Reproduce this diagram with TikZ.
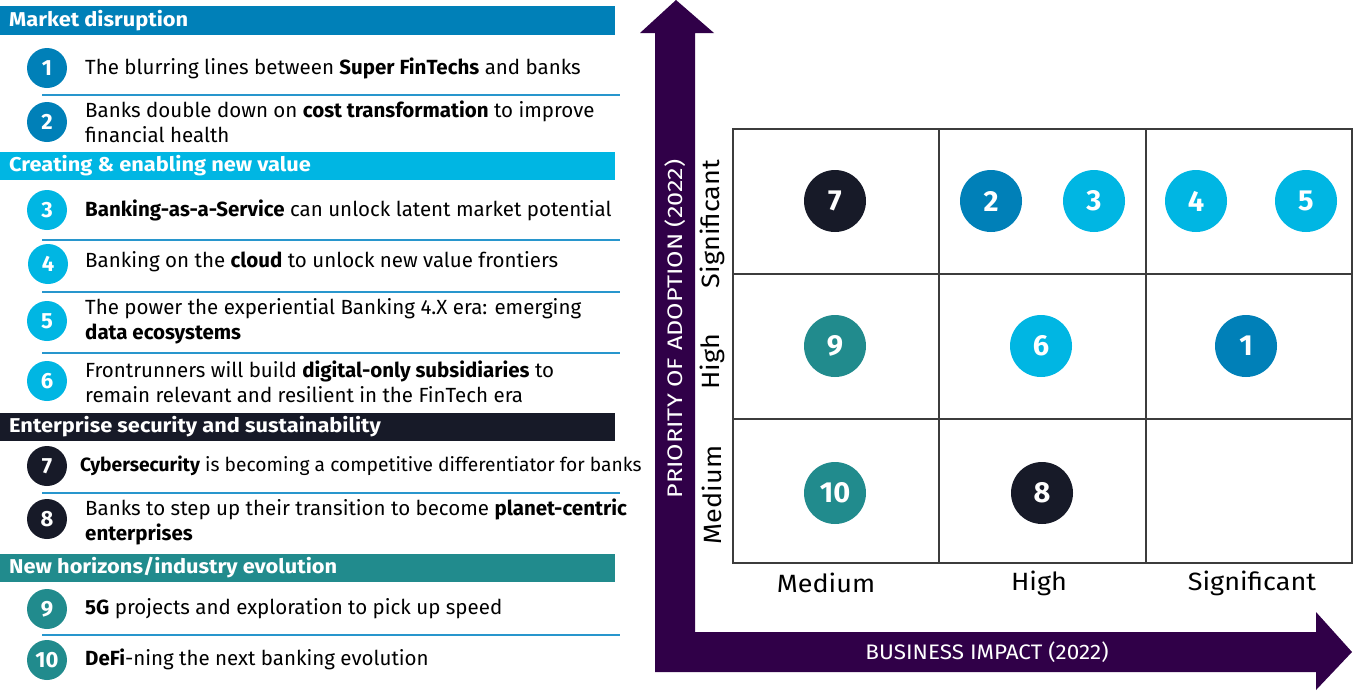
\documentclass[tikz,border=0pt]{standalone}
\usepackage{fontspec}
\setmainfont{Fira Sans}
\definecolor{mblue}{RGB}{0,128,184}
\definecolor{mcyan}{RGB}{0,182,227}
\definecolor{mnavy}{RGB}{23,26,40}
\definecolor{mteal}{RGB}{33,139,141}
\definecolor{mpurple}{RGB}{48,0,72}
\definecolor{msep}{RGB}{40,150,205}
\definecolor{mgrid}{RGB}{60,60,60}
\newcommand{\hw}[1]{\scalebox{1.09}[1]{#1}}
\newcommand{\aw}[1]{\scalebox{1.08}[1]{#1}}
\tikzset{
  hdr/.style={anchor=west,text=white,font=\fontsize{20}{22}\selectfont\bfseries,inner sep=0pt},
  hbar/.style={fill=#1,draw=none},
  lc/.style={circle,fill=#1,text=white,minimum size=40pt,inner sep=0pt,font=\fontsize{22}{22}\selectfont\bfseries},
  gc/.style={circle,fill=#1,text=white,minimum size=62pt,inner sep=0pt,font=\fontsize{29}{29}\selectfont\bfseries},
  itxt/.style={anchor=west,align=left,inner sep=0pt,font=\fontsize{20.5}{25}\selectfont},
  sep/.style={draw=msep,line width=1.2pt},
  gridline/.style={draw=mgrid,line width=1.6pt},
  axl/.style={font=\fontsize{25}{25}\selectfont,text=black,inner sep=0pt},
  arrl/.style={font=\fontsize{21}{21}\selectfont,text=white,inner sep=0pt}
}
\begin{document}
\begin{tikzpicture}[x=1pt,y=-1pt]
\useasboundingbox (0,0) rectangle (1357,691);
% ---- left panel ----
\fill[hbar=mblue] (0,6) rectangle (615,35);
\node[hdr] (h1) at (9,20.5) {\hw{Market disruption}};
\node[lc=mblue] (c1) at (47,68) {1};
\node[itxt] (t1) at (85,68) {The blurring lines between \textbf{Super FinTechs} and banks};
\coordinate (s1a) at (42,95); \coordinate (s1b) at (620,95);
\draw[sep] (s1a) -- (s1b);
\node[lc=mblue] (c2) at (47,122) {2};
\node[itxt] (t2) at (85,122) {Banks double down on \textbf{cost transformation} to improve\\financial health};

\fill[hbar=mcyan] (0,152) rectangle (615,180);
\node[hdr] (h2) at (9,166) {\hw{Creating \& enabling new value}};
\node[lc=mcyan] (c3) at (47,210) {3};
\node[itxt] (t3) at (85,210) {\textbf{Banking-as-a-Service} can unlock latent market potential};
\coordinate (s2a) at (42,240); \coordinate (s2b) at (620,240);
\draw[sep] (s2a) -- (s2b);
\node[lc=mcyan] (c4) at (48,264) {4};
\node[itxt] (t4) at (85,262) {Banking on the \textbf{cloud} to unlock new value frontiers};
\coordinate (s3a) at (42,292); \coordinate (s3b) at (620,292);
\draw[sep] (s3a) -- (s3b);
\node[lc=mcyan] (c5) at (47,321) {5};
\node[itxt] (t5) at (85,321) {The power the experiential Banking 4.X era: emerging\\\textbf{data ecosystems}};
\coordinate (s4a) at (42,353); \coordinate (s4b) at (620,353);
\draw[sep] (s4a) -- (s4b);
\node[lc=mcyan] (c6) at (47,381) {6};
\node[itxt] (t6) at (85,382) {Frontrunners will build \textbf{digital-only subsidiaries} to\\remain relevant and resilient in the FinTech era};

\fill[hbar=mnavy] (0,413) rectangle (615,441);
\node[hdr] (h3) at (9,427) {\hw{Enterprise security and sustainability}};
\node[lc=mnavy] (c7) at (47,466) {7};
\node[itxt,font=\fontsize{19.2}{25}\selectfont] (t7) at (80,466) {\textbf{Cybersecurity} is becoming a competitive differentiator for banks};
\coordinate (s5a) at (42,493); \coordinate (s5b) at (620,493);
\draw[sep] (s5a) -- (s5b);
\node[lc=mnavy] (c8) at (47,519) {8};
\node[itxt] (t8) at (85,522) {Banks to step up their transition to become \textbf{planet-centric}\\\textbf{enterprises}};

\fill[hbar=mteal] (0,554) rectangle (615,582);
\node[hdr] (h4) at (9,568) {\hw{New horizons/industry evolution}};
\node[lc=mteal] (c9) at (47,609) {9};
\node[itxt] (t9) at (85,609) {\textbf{5G} projects and exploration to pick up speed};
\coordinate (s6a) at (42,635); \coordinate (s6b) at (620,635);
\draw[sep] (s6a) -- (s6b);
\node[lc=mteal] (c10) at (47,660) {10};
\node[itxt] (t10) at (85,659) {\textbf{DeFi}-ning the next banking evolution};

% ---- arrows ----
\fill[mpurple] (655,672) -- (655,33) -- (640,33) -- (676,0) -- (714,33) -- (695,33)
  -- (695,632) -- (1316,632) -- (1316,612) -- (1352,652) -- (1316,690) -- (1316,672) -- cycle;
\node[arrl,rotate=90] (ya) at (675,329) {\scalebox{1.2}[1]{PRIORITY OF ADOPTION (2022)}};
\node[arrl] (xa) at (987,652) {\scalebox{1.07}[1]{BUSINESS IMPACT (2022)}};

% ---- grid ----
\draw[gridline] (733,129) rectangle (1352,563);
\draw[gridline] (939,129) -- (939,563);
\draw[gridline] (1146,129) -- (1146,563);
\draw[gridline] (733,274) -- (1352,274);
\draw[gridline] (733,419) -- (1352,419);

\node[axl,rotate=90] (r1) at (712,224) {\aw{Significant}};
\node[axl,rotate=90] (r2) at (712,362) {\aw{High}};
\node[axl,rotate=90] (r3) at (712,495) {\aw{Medium}};
\node[axl] (k1) at (826,583) {\aw{Medium}};
\node[axl] (k2) at (1039,583) {\aw{High}};
\node[axl] (k3) at (1252,583) {\aw{Significant}};

\node[gc=mnavy] (g7) at (835,201) {7};
\node[gc=mblue] (g2) at (991,201) {2};
\node[gc=mcyan] (g3) at (1094,201) {3};
\node[gc=mcyan] (g4) at (1196,201) {4};
\node[gc=mcyan] (g5) at (1306,201) {5};
\node[gc=mteal] (g9) at (835,346) {9};
\node[gc=mcyan] (g6) at (1041,346) {6};
\node[gc=mblue] (g1) at (1246,346) {1};
\node[gc=mteal] (g10) at (835,493) {10};
\node[gc=mnavy] (g8) at (1042,493) {8};
\end{tikzpicture}
\end{document}
